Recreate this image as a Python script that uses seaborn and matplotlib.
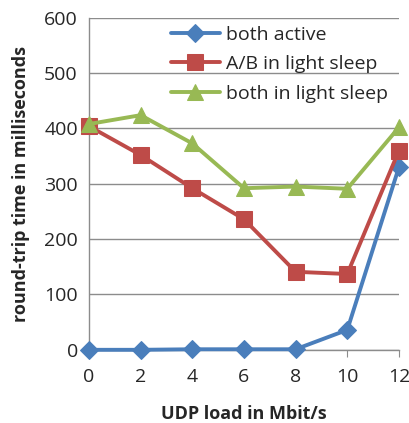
import matplotlib
matplotlib.use("Agg")
import matplotlib.pyplot as plt
import seaborn as sns
import pandas as pd

# data
udp_load = [0, 2, 4, 6, 8, 10, 12]
both_active = [0, 0, 1, 1, 1, 36, 330]
ab_light_sleep = [404, 352, 292, 236, 141, 137, 360]
both_light_sleep = [408, 424, 373, 292, 295, 291, 402]
series_names = ["both active", "A/B in light sleep", "both in light sleep"]

df = pd.DataFrame({
    "load": udp_load * 3,
    "rtt": both_active + ab_light_sleep + both_light_sleep,
    "series": sum([[n] * len(udp_load) for n in series_names], []),
})

sns.set_style("white")
plt.rcParams["font.family"] = ["Open Sans", "DejaVu Sans"]

fig = plt.figure(figsize=(4.10, 4.23), dpi=100)
ax = fig.add_axes([0.217, 0.173, 0.756, 0.785])

palette = {"both active": "#4A7EBB", "A/B in light sleep": "#BE4B48",
           "both in light sleep": "#98B954"}
markers = {"both active": "D", "A/B in light sleep": "s", "both in light sleep": "^"}
sizes = {"both active": 9, "A/B in light sleep": 11, "both in light sleep": 11}

for name in series_names:
    sub = df[df["series"] == name]
    sns.lineplot(data=sub, x="load", y="rtt", ax=ax, color=palette[name],
                 marker=markers[name], markersize=sizes[name], linewidth=2.8,
                 markeredgecolor=palette[name], label=name, zorder=3, clip_on=False)

ax.set_xlim(0, 12)
ax.set_ylim(0, 600)
ax.set_xticks(udp_load)
ax.set_yticks(range(0, 601, 100))
ax.yaxis.grid(True, color="#8c8c8c", linewidth=1)
ax.xaxis.grid(False)
for s in ["top", "right"]:
    ax.spines[s].set_visible(False)
for s in ["left", "bottom"]:
    ax.spines[s].set_color("#8c8c8c")
    ax.spines[s].set_linewidth(1)
ax.tick_params(axis="x", direction="out", length=5, color="#8c8c8c",
               labelsize=14, pad=8, bottom=True)
ax.tick_params(axis="y", length=0, labelsize=14, pad=8, left=False)
ax.set_xlabel("UDP load in Mbit/s", fontsize=13, fontweight="bold", labelpad=14)
ax.set_ylabel("round-trip time in milliseconds", fontsize=13,
              fontweight="bold", labelpad=10)

ax.legend(loc="upper left", bbox_to_anchor=(0.24, 1.0), frameon=False,
          fontsize=14, handlelength=2.5, handletextpad=0.3, labelspacing=0.6,
          borderaxespad=0)

fig.savefig("out.png", dpi=100)
